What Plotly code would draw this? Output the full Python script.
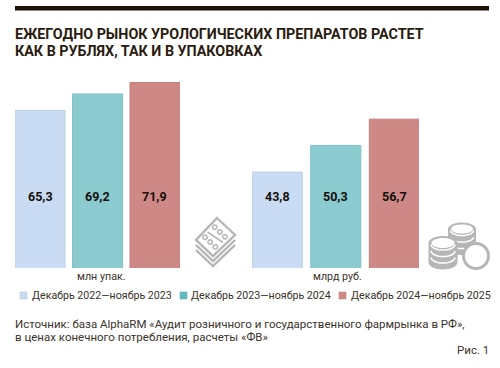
import math
import plotly.graph_objects as go

periods = ["Декабрь 2022—ноябрь 2023", "Декабрь 2023—ноябрь 2024", "Декабрь 2024—ноябрь 2025"]
packs_mln = [65.3, 69.2, 71.9]
rub_bln = [43.8, 50.3, 56.7]
units = ["млн упак.", "млрд руб."]
title_lines = ["ЕЖЕГОДНО РЫНОК УРОЛОГИЧЕСКИХ ПРЕПАРАТОВ РАСТЕТ", "КАК В РУБЛЯХ, ТАК И В УПАКОВКАХ"]
source_lines = ["Источник: база AlphaRM «Аудит розничного и государственного фармрынка в РФ»,",
                "в ценах конечного потребления, расчеты «ФВ»"]
fig_label = "Рис. 1"
bar_colors = ["#c9dcf3", "#8bcbd0", "#ce8886"]
edge_colors = ["#bccfe6", "#80c0c6", "#c27f7d"]
legend_colors = ["#c9dcf3", "#62babf", "#ce8886"]

W, H = 500, 368
TXT = "#3b322a"
FONT = "Roboto"
BASE_Y, TOP_Y = 268, 60


def px(x):
    return x / W


def py(y):
    return 1 - y / H


fig = go.Figure()
for i, p in enumerate(periods):
    fig.add_trace(go.Bar(x=[i], y=[packs_mln[i]], name=p, width=0.87, xaxis="x", yaxis="y",
                         marker=dict(color=bar_colors[i], line=dict(color=edge_colors[i], width=1)),
                         showlegend=False))
    fig.add_trace(go.Bar(x=[i], y=[rub_bln[i]], name=p, width=0.855, xaxis="x2", yaxis="y2",
                         marker=dict(color=bar_colors[i], line=dict(color=edge_colors[i], width=1)),
                         showlegend=False))

ann = []


def text(x, y, s, size=11.3, color=TXT, anchor="left", weight=None):
    ann.append(dict(x=px(x), y=py(y), xref="paper", yref="paper", text=s, showarrow=False,
                    xanchor=anchor, yanchor="middle", borderpad=0, borderwidth=0,
                    font=dict(family=FONT, size=size, color=color, weight=weight)))


# value labels: category x from the axes, fixed vertical line
for i, v in enumerate(packs_mln):
    ann.append(dict(x=i, xref="x", y=py(196), yref="paper", text=f"{v}".replace(".", ","), showarrow=False,
                    font=dict(family=FONT, size=12.5, color="#14100c", weight="bold")))
for i, v in enumerate(rub_bln):
    ann.append(dict(x=i, xref="x2", y=py(196), yref="paper", text=f"{v}".replace(".", ","), showarrow=False,
                    font=dict(family=FONT, size=12.5, color="#14100c", weight="bold")))

text(101, 276.5, units[0], size=10.7, anchor="center")
text(337, 276.5, units[1], size=10.7, anchor="center")
text(15, 33.5, title_lines[0], size=14.3, color="#2a1c10", weight="bold")
text(15, 51, title_lines[1], size=14.3, color="#2a1c10", weight="bold")
text(15, 324, source_lines[0], size=11.5)
text(15, 337, source_lines[1], size=11.5)
text(489, 350, fig_label, size=11.5, anchor="right")

shapes = [dict(type="rect", xref="paper", yref="paper", x0=px(15), x1=px(489), y0=py(6), y1=py(10.5),
               fillcolor="#1e1105", line=dict(width=0))]

for x_sw, x_txt, p, c in zip([20, 180, 339], [32, 191, 351], periods, legend_colors):
    shapes.append(dict(type="rect", xref="paper", yref="paper", x0=px(x_sw), x1=px(x_sw + 7), y0=py(292),
                       y1=py(299), fillcolor=c, line=dict(color="#b5c6dc" if c == "#c9dcf3" else c, width=0.6)))
    text(x_txt, 295.5, p, size=10.65)

GREY = "#b6b6b6"


def path(pts, close=True):
    s = "M" + " L".join(f"{px(x):.5f},{py(y):.5f}" for x, y in pts)
    return s + (" Z" if close else "")


def add_path(pts, close=True, fill=None, lw=2.4, color=GREY):
    shapes.append(dict(type="path", xref="paper", yref="paper", path=path(pts, close),
                       fillcolor=fill if fill else "rgba(0,0,0,0)", line=dict(color=color, width=lw)))


def ell(cx, cy, rx, ry, a0=0, a1=360, n=36):
    return [(cx + rx * math.cos(math.radians(a0 + (a1 - a0) * k / n)),
             cy + ry * math.sin(math.radians(a0 + (a1 - a0) * k / n))) for k in range(n + 1)]


# blister icon
T, R, B, L = (217, 218), (235, 235), (213, 256), (196, 240)
for d in (10, 5):
    add_path([(L[0], L[1] + d), (B[0], B[1] + d), (R[0], R[1] + d)], close=False)
add_path([T, R, B, L], fill="white")
add_path([((T[0] + L[0]) / 2 + 1, (T[1] + L[1]) / 2 + 3), ((R[0] + B[0]) / 2 - 1, (R[1] + B[1]) / 2 - 3)],
         close=False, lw=1.6)
for t in (0.2, 0.5, 0.8):
    for up, off in ((1, 0.27), (0, 0.73)):
        cx = L[0] + (T[0] - L[0]) * off + (B[0] - L[0]) * t
        cy = L[1] + (T[1] - L[1]) * off + (B[1] - L[1]) * t
        add_path(ell(cx, cy, 2.2, 2.2, n=16), lw=1.5)


# coin stacks
def stack(cx, top, rx, ry, layers, step):
    add_path(ell(cx, top + layers * step, rx, ry, 0, 180, 18)
             + [(cx - rx, top)] + ell(cx, top, rx, ry, 180, 360, 18) + [(cx + rx, top + layers * step)],
             close=False, fill=GREY, lw=1)
    for k in range(layers):
        add_path(ell(cx, top + k * step + 1.5, rx - 2, ry - 1, 0, 180, 18), close=False, fill=None, lw=1.5,
                 color="white")
    add_path(ell(cx, top, rx - 2.5, ry - 1.5), fill="white", lw=0)


stack(462, 229, 13.5, 6, 3, 6.5)
stack(443, 243, 14, 6.5, 3, 6.5)
shapes.append(dict(type="circle", xref="paper", yref="paper", x0=px(463.5), x1=px(488.5), y0=py(268.5), y1=py(243.5),
                   fillcolor="white", line=dict(color=GREY, width=3)))

fig.update_layout(
    width=W, height=H, margin=dict(l=0, r=0, t=0, b=0), autosize=False,
    paper_bgcolor="white", plot_bgcolor="white", showlegend=False, barmode="overlay",
    shapes=shapes, annotations=ann,
    xaxis=dict(domain=[px(15), px(180)], range=[-0.435, 2.435], visible=False, fixedrange=True),
    xaxis2=dict(domain=[px(252), px(419)], range=[-0.43, 2.42], visible=False, fixedrange=True),
    yaxis=dict(domain=[py(BASE_Y), py(TOP_Y)], range=[28.15, 28.15 + (BASE_Y - TOP_Y) / 4.24], visible=False,
               anchor="x"),
    yaxis2=dict(domain=[py(BASE_Y), py(TOP_Y)], range=[20.4, 20.4 + (BASE_Y - TOP_Y) / 4.1], visible=False,
                anchor="x2"),
)
fig.write_html("out.html", config=dict(displayModeBar=False),
               post_script="document.body.style.margin='0';document.body.style.overflow='hidden';")
